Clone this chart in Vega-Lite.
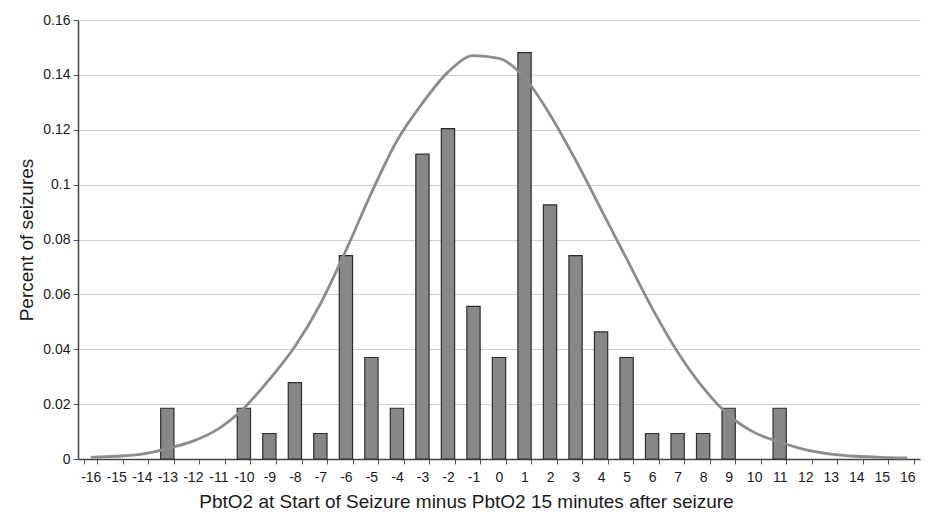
{
  "$schema": "https://vega.github.io/schema/vega-lite/v6.json",
  "width": 842,
  "height": 439,
  "autosize": {"type": "none"},
  "padding": {"left": 78, "top": 20, "right": 5, "bottom": 53},
  "background": "white",
  "config": {
    "view": {"stroke": null},
    "font": "Liberation Sans",
    "axis": {"labelFont": "Liberation Sans", "titleFont": "Liberation Sans", "labelColor": "#1a1a1a", "titleColor": "#1a1a1a", "titleFontWeight": "normal"}
  },
  "datasets": {
    "bars": [
      {"diff": -13, "pct": 0.0185},
      {"diff": -10, "pct": 0.0185},
      {"diff": -9, "pct": 0.0093},
      {"diff": -8, "pct": 0.0278},
      {"diff": -7, "pct": 0.0093},
      {"diff": -6, "pct": 0.0741},
      {"diff": -5, "pct": 0.037},
      {"diff": -4, "pct": 0.0185},
      {"diff": -3, "pct": 0.1111},
      {"diff": -2, "pct": 0.1204},
      {"diff": -1, "pct": 0.0556},
      {"diff": 0, "pct": 0.037},
      {"diff": 1, "pct": 0.1481},
      {"diff": 2, "pct": 0.0926},
      {"diff": 3, "pct": 0.0741},
      {"diff": 4, "pct": 0.0463},
      {"diff": 5, "pct": 0.037},
      {"diff": 6, "pct": 0.0093},
      {"diff": 7, "pct": 0.0093},
      {"diff": 8, "pct": 0.0093},
      {"diff": 9, "pct": 0.0185},
      {"diff": 11, "pct": 0.0185}
    ],
    "curve": [
      {"diff": -16, "fit": 0.0006},
      {"diff": -15, "fit": 0.001},
      {"diff": -14, "fit": 0.0018},
      {"diff": -13, "fit": 0.0038},
      {"diff": -12, "fit": 0.0065},
      {"diff": -11, "fit": 0.011},
      {"diff": -10, "fit": 0.0185},
      {"diff": -9, "fit": 0.029},
      {"diff": -8, "fit": 0.041},
      {"diff": -7, "fit": 0.0565},
      {"diff": -6, "fit": 0.076},
      {"diff": -5, "fit": 0.097},
      {"diff": -4, "fit": 0.116},
      {"diff": -3, "fit": 0.1297},
      {"diff": -2, "fit": 0.141},
      {"diff": -1, "fit": 0.147},
      {"diff": 0, "fit": 0.146},
      {"diff": 1, "fit": 0.139},
      {"diff": 2, "fit": 0.1255},
      {"diff": 3, "fit": 0.109},
      {"diff": 4, "fit": 0.091},
      {"diff": 5, "fit": 0.073},
      {"diff": 6, "fit": 0.055},
      {"diff": 7, "fit": 0.039},
      {"diff": 8, "fit": 0.026},
      {"diff": 9, "fit": 0.016},
      {"diff": 10, "fit": 0.0097},
      {"diff": 11, "fit": 0.0062},
      {"diff": 12, "fit": 0.0034},
      {"diff": 13, "fit": 0.0018},
      {"diff": 14, "fit": 0.001},
      {"diff": 15, "fit": 0.0006},
      {"diff": 16, "fit": 0.0004}
    ]
  },
  "encoding": {
    "x": {
      "field": "diff",
      "type": "ordinal",
      "scale": {"domain": [-16,-15,-14,-13,-12,-11,-10,-9,-8,-7,-6,-5,-4,-3,-2,-1,0,1,2,3,4,5,6,7,8,9,10,11,12,13,14,15,16], "paddingInner": 0.48, "paddingOuter": 0.24},
      "axis": {
        "title": "PbtO2 at Start of Seizure minus PbtO2 15 minutes after seizure",
        "titleFontSize": 19,
        "titlePadding": 8,
        "titleX": 388,
        "titleAlign": "center",
        "labelAngle": 0,
        "labelFontSize": 14,
        "labelPadding": 6,
        "labelOverlap": false,
        "tickBand": "extent",
        "ticks": true,
        "tickSize": 5,
        "tickColor": "#555",
        "domainColor": "#444",
        "domainWidth": 1.5,
        "grid": false
      }
    }
  },
  "layer": [
    {
      "data": {"name": "bars"},
      "mark": {"type": "bar", "fill": "#878787", "stroke": "#2e2e2e", "strokeWidth": 1.2},
      "encoding": {
        "y": {
          "field": "pct",
          "type": "quantitative",
          "scale": {"domain": [0, 0.16], "nice": false},
          "axis": {
            "title": "Percent of seizures",
            "titleFontSize": 19,
            "titlePadding": 6,
            "values": [0, 0.02, 0.04, 0.06, 0.08, 0.1, 0.12, 0.14, 0.16],
            "format": "~g",
            "labelFontSize": 14,
            "labelPadding": 3,
            "tickSize": 5,
            "tickColor": "#555",
            "domainColor": "#444",
            "domainWidth": 1.5,
            "grid": true,
            "gridColor": "#cfcfcf",
            "gridWidth": 1.2
          }
        }
      }
    },
    {
      "data": {"name": "curve"},
      "mark": {"type": "line", "color": "#8c8c8c", "strokeWidth": 2.8, "interpolate": "monotone"},
      "encoding": {
        "y": {"field": "fit", "type": "quantitative"}
      }
    }
  ]
}
